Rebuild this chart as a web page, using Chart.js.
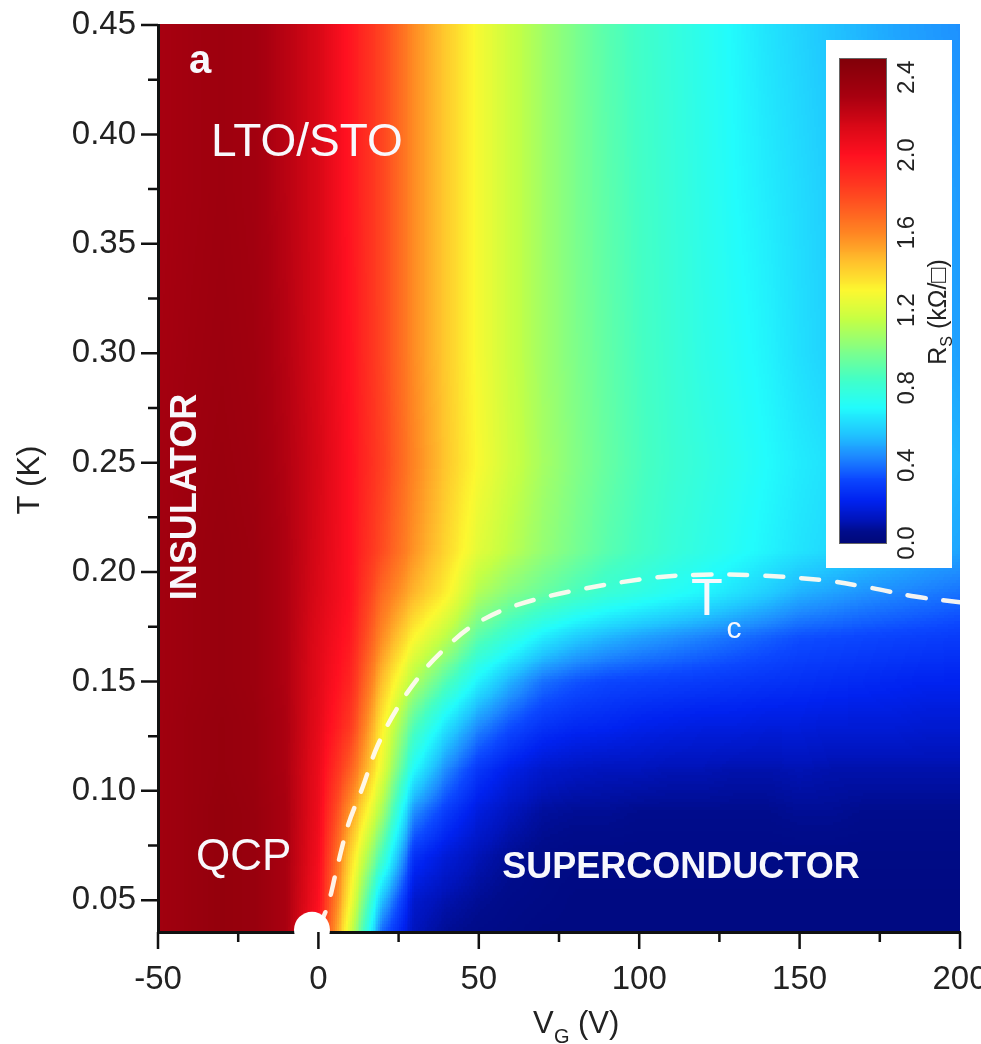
<!DOCTYPE html>
<html>
<head>
<meta charset="utf-8">
<script src="https://cdn.jsdelivr.net/npm/chart.js@4.4.0/dist/chart.umd.min.js"></script>
<style>
html, body { margin: 0; padding: 0; background: #fff; }
#wrap { width: 981px; height: 1044px; }
</style>
</head>
<body>
<div id="wrap"><canvas id="phaseChart" width="981" height="1044"></canvas></div>
<script>
// gate voltage columns (V) of the Rs map
let vg_cols = [-50, -40, -30, -20, -10, 0, 10, 20, 30, 40, 50, 60, 70, 80, 90, 100, 110, 120, 130, 140, 150, 160, 170, 180, 190, 200];
// temperature rows (K), bottom to top
let t_rows = [0.0355, 0.05, 0.07, 0.09, 0.11, 0.13, 0.15, 0.17, 0.19, 0.21, 0.25, 0.30, 0.375, 0.45];

// sheet resistance Rs (kOhm/sq), one array per temperature row
let rs_t0355 = [2.33, 2.37, 2.40, 2.38, 2.30, 1.98, 1.20, 0.38, 0.12, 0.07, 0.05, 0.04, 0.03, 0.03, 0.03, 0.03, 0.03, 0.03, 0.03, 0.03, 0.03, 0.03, 0.03, 0.03, 0.03, 0.03];
let rs_t050 = [2.33, 2.37, 2.40, 2.38, 2.30, 2.02, 1.30, 0.55, 0.15, 0.10, 0.07, 0.05, 0.04, 0.03, 0.03, 0.03, 0.03, 0.03, 0.03, 0.03, 0.03, 0.03, 0.03, 0.03, 0.03, 0.03];
let rs_t070 = [2.33, 2.37, 2.40, 2.38, 2.30, 2.05, 1.40, 0.85, 0.26, 0.17, 0.11, 0.07, 0.05, 0.04, 0.04, 0.04, 0.04, 0.04, 0.04, 0.04, 0.04, 0.04, 0.04, 0.04, 0.04, 0.04];
let rs_t090 = [2.33, 2.37, 2.40, 2.38, 2.30, 2.07, 1.55, 1.08, 0.45, 0.29, 0.18, 0.12, 0.08, 0.07, 0.07, 0.06, 0.06, 0.06, 0.06, 0.06, 0.07, 0.07, 0.06, 0.06, 0.06, 0.06];
let rs_t110 = [2.33, 2.37, 2.39, 2.37, 2.29, 2.08, 1.72, 1.25, 0.70, 0.45, 0.28, 0.20, 0.15, 0.13, 0.12, 0.12, 0.11, 0.11, 0.10, 0.10, 0.11, 0.10, 0.10, 0.10, 0.10, 0.10];
let rs_t130 = [2.33, 2.37, 2.39, 2.37, 2.29, 2.10, 1.85, 1.33, 0.88, 0.64, 0.45, 0.34, 0.27, 0.24, 0.23, 0.21, 0.20, 0.19, 0.19, 0.18, 0.18, 0.17, 0.17, 0.17, 0.16, 0.16];
let rs_t150 = [2.33, 2.36, 2.38, 2.36, 2.28, 2.11, 1.92, 1.45, 1.10, 0.88, 0.67, 0.52, 0.40, 0.35, 0.32, 0.31, 0.30, 0.29, 0.28, 0.27, 0.26, 0.25, 0.24, 0.23, 0.22, 0.22];
let rs_t170 = [2.33, 2.36, 2.38, 2.36, 2.28, 2.12, 1.97, 1.58, 1.30, 1.13, 0.90, 0.78, 0.66, 0.58, 0.53, 0.49, 0.46, 0.43, 0.40, 0.37, 0.34, 0.33, 0.32, 0.31, 0.30, 0.29];
let rs_t190 = [2.33, 2.36, 2.38, 2.36, 2.28, 2.14, 2.00, 1.68, 1.47, 1.32, 1.10, 1.00, 0.93, 0.86, 0.80, 0.76, 0.72, 0.68, 0.63, 0.58, 0.52, 0.49, 0.46, 0.44, 0.42, 0.40];
let rs_t210 = [2.33, 2.36, 2.38, 2.36, 2.28, 2.15, 2.00, 1.78, 1.56, 1.39, 1.23, 1.13, 1.04, 0.97, 0.90, 0.85, 0.80, 0.76, 0.72, 0.68, 0.64, 0.61, 0.58, 0.55, 0.52, 0.50];
let rs_t250 = [2.32, 2.35, 2.37, 2.35, 2.27, 2.16, 2.00, 1.82, 1.60, 1.43, 1.29, 1.18, 1.08, 1.00, 0.93, 0.87, 0.82, 0.78, 0.74, 0.70, 0.66, 0.63, 0.60, 0.57, 0.55, 0.53];
let rs_t300 = [2.31, 2.34, 2.36, 2.34, 2.26, 2.15, 1.99, 1.80, 1.58, 1.42, 1.28, 1.17, 1.07, 0.99, 0.92, 0.86, 0.81, 0.76, 0.72, 0.68, 0.63, 0.59, 0.56, 0.53, 0.51, 0.49];
let rs_t375 = [2.30, 2.33, 2.35, 2.33, 2.25, 2.15, 1.98, 1.80, 1.58, 1.42, 1.28, 1.17, 1.07, 0.98, 0.91, 0.85, 0.80, 0.75, 0.70, 0.66, 0.62, 0.58, 0.55, 0.52, 0.50, 0.48];
let rs_t450 = [2.30, 2.33, 2.35, 2.33, 2.25, 2.15, 1.98, 1.80, 1.58, 1.42, 1.28, 1.17, 1.07, 0.98, 0.90, 0.84, 0.79, 0.74, 0.69, 0.64, 0.60, 0.56, 0.53, 0.50, 0.48, 0.46];

// Tc line (dashed) and the quantum critical point
let tc_vg = [0, 3, 5.5, 9.4, 13.7, 18.4, 25, 32.8, 40, 48, 60, 79, 105, 120, 136, 157, 172.5, 186, 200];
let tc_t = [0.037, 0.048, 0.063, 0.085, 0.1013, 0.1205, 0.1388, 0.1548, 0.1658, 0.1754, 0.184, 0.1913, 0.1975, 0.1988, 0.1985, 0.1963, 0.1927, 0.1888, 0.1862];
let qcp_vg = [-2];
let qcp_t = [0.0365];

// axis ticks
let x_tick_values = [-50, 0, 50, 100, 150, 200];
let x_minor_values = [-25, 25, 75, 125, 175];
let y_tick_values = [0.05, 0.10, 0.15, 0.20, 0.25, 0.30, 0.35, 0.40, 0.45];
let y_minor_values = [0.075, 0.125, 0.175, 0.225, 0.275, 0.325, 0.375, 0.425];
let cb_tick_values = [0.0, 0.4, 0.8, 1.2, 1.6, 2.0, 2.4];

let rs_grid = [rs_t0355, rs_t050, rs_t070, rs_t090, rs_t110, rs_t130, rs_t150, rs_t170, rs_t190, rs_t210, rs_t250, rs_t300, rs_t375, rs_t450];

// jet-like colour map of the figure
const cmap_stops = [
    [0.00, [0, 8, 120]], [0.06, [0, 12, 140]], [0.12, [0, 20, 188]], [0.22, [0, 34, 240]],
    [0.33, [12, 72, 255]], [0.45, [30, 140, 255]], [0.56, [32, 196, 255]], [0.70, [34, 252, 252]],
    [0.85, [68, 255, 196]], [1.00, [132, 255, 132]], [1.15, [196, 255, 68]], [1.30, [252, 248, 48]],
    [1.45, [255, 192, 44]], [1.60, [255, 132, 34]], [1.80, [255, 68, 32]], [2.00, [255, 16, 32]],
    [2.15, [216, 8, 22]], [2.30, [168, 0, 16]], [2.50, [128, 0, 8]]
];
let cmap_cache = {};
function rsColor(v) {
    let key = Math.round(v * 200);
    if (cmap_cache[key]) return cmap_cache[key];
    let q = key / 200, c = cmap_stops[cmap_stops.length - 1][1];
    if (q <= cmap_stops[0][0]) c = cmap_stops[0][1];
    for (let i = 0; i < cmap_stops.length - 1; i++) {
        let a = cmap_stops[i], b = cmap_stops[i + 1];
        if (q >= a[0] && q <= b[0]) {
            let f = (q - a[0]) / (b[0] - a[0]);
            c = [0, 1, 2].map(k => Math.round(a[1][k] + (b[1][k] - a[1][k]) * f));
            break;
        }
    }
    cmap_cache[key] = 'rgb(' + c[0] + ',' + c[1] + ',' + c[2] + ')';
    return cmap_cache[key];
}

let tc_points = [];
for (x in tc_vg) {
    tc_points.push({x: tc_vg[x], y: tc_t[x]});
}
let qcp_points = [{x: qcp_vg[0], y: qcp_t[0]}];

const FONT = '"Liberation Sans", Arial, Helvetica, sans-serif';

// the Rs map, drawn cell by cell under the axes
const heatmapPlugin = {
    id: 'heatmap',
    beforeDraw(chart) {
        let ctx = chart.ctx;
        let xs = chart.scales.x;
        let ys = chart.scales.y;
        ctx.save();
        ctx.fillStyle = '#ffffff';
        ctx.fillRect(0, 0, chart.width, chart.height);
        for (let j = 0; j < t_rows.length - 1; j++) {
            let y0 = ys.getPixelForValue(t_rows[j]);
            let y1 = ys.getPixelForValue(t_rows[j + 1]);
            let ny = Math.max(1, Math.ceil((y0 - y1) / 3));
            for (let i = 0; i < vg_cols.length - 1; i++) {
                let x0 = xs.getPixelForValue(vg_cols[i]);
                let x1 = xs.getPixelForValue(vg_cols[i + 1]);
                let nx = Math.max(1, Math.ceil((x1 - x0) / 2));
                let a = rs_grid[j][i], b = rs_grid[j][i + 1];
                let c = rs_grid[j + 1][i], d = rs_grid[j + 1][i + 1];
                for (let q = 0; q < ny; q++) {
                    let fy = (q + 0.5) / ny;
                    let yb = y0 + (y1 - y0) * q / ny;
                    let yt = y0 + (y1 - y0) * (q + 1) / ny;
                    for (let p = 0; p < nx; p++) {
                        let fx = (p + 0.5) / nx;
                        let v = a * (1 - fx) * (1 - fy) + b * fx * (1 - fy) + c * (1 - fx) * fy + d * fx * fy;
                        let xl = x0 + (x1 - x0) * p / nx;
                        let xr = x0 + (x1 - x0) * (p + 1) / nx;
                        ctx.fillStyle = rsColor(v);
                        ctx.fillRect(Math.floor(xl), Math.floor(yt), Math.ceil(xr) - Math.floor(xl), Math.ceil(yb) - Math.floor(yt));
                    }
                }
            }
        }
        ctx.restore();
    }
};

function rotText(ctx, txt, x, y, font, color) {
    ctx.save();
    ctx.translate(x, y);
    ctx.rotate(-Math.PI / 2);
    ctx.font = font;
    ctx.fillStyle = color;
    ctx.textAlign = 'center';
    ctx.textBaseline = 'middle';
    ctx.fillText(txt, 0, 0);
    ctx.restore();
}

// ticks, labels on the map, colour bar
const overlayPlugin = {
    id: 'overlay',
    afterDraw(chart) {
        let ctx = chart.ctx;
        let xs = chart.scales.x;
        let ys = chart.scales.y;
        let area = chart.chartArea;
        ctx.save();

        // tick marks
        ctx.strokeStyle = '#111';
        ctx.lineWidth = 2.5;
        ctx.beginPath();
        x_tick_values.forEach(v => { let px = xs.getPixelForValue(v); ctx.moveTo(px, area.bottom); ctx.lineTo(px, area.bottom + 17); });
        x_minor_values.forEach(v => { let px = xs.getPixelForValue(v); ctx.moveTo(px, area.bottom); ctx.lineTo(px, area.bottom + 10); });
        y_tick_values.forEach(v => { let py = ys.getPixelForValue(v); ctx.moveTo(area.left, py); ctx.lineTo(area.left - 17, py); });
        y_minor_values.forEach(v => { let py = ys.getPixelForValue(v); ctx.moveTo(area.left, py); ctx.lineTo(area.left - 10, py); });
        ctx.stroke();

        // axis titles
        rotText(ctx, 'T (K)', 30, 480, '31px ' + FONT, '#222');
        ctx.fillStyle = '#222';
        ctx.textBaseline = 'alphabetic';
        ctx.textAlign = 'left';
        ctx.font = '31px ' + FONT;
        ctx.fillText('V', 533, 1033);
        ctx.font = '20px ' + FONT;
        ctx.fillText('G', 554, 1043);
        ctx.font = '31px ' + FONT;
        ctx.fillText('(V)', 578, 1033);

        // labels on the map
        ctx.fillStyle = '#f8f8fc';
        ctx.font = 'bold 40px ' + FONT;
        ctx.textAlign = 'center';
        ctx.textBaseline = 'middle';
        ctx.fillText('a', 200, 62);
        ctx.font = '46px ' + FONT;
        ctx.textAlign = 'left';
        ctx.fillText('LTO/STO', 211, 143);
        ctx.font = '44px ' + FONT;
        ctx.fillText('QCP', 196, 858);
        ctx.font = 'bold 36px ' + FONT;
        ctx.textAlign = 'center';
        ctx.fillText('SUPERCONDUCTOR', 681, 868);
        rotText(ctx, 'INSULATOR', 186, 497, 'bold 36px ' + FONT, '#f8f8fc');
        ctx.fillStyle = '#f8f8fc';
        ctx.font = '52px ' + FONT;
        ctx.textAlign = 'center';
        ctx.fillText('T', 707, 601);
        ctx.font = '30px ' + FONT;
        ctx.fillText('c', 734, 630);

        // colour bar
        ctx.fillStyle = '#ffffff';
        ctx.fillRect(826, 40, 126, 528);
        let cbBottom = 543, cbTop = 58, cbScale = (cbBottom - cbTop) / 2.5;
        for (let py = cbTop; py < cbBottom; py++) {
            ctx.fillStyle = rsColor((cbBottom - py - 0.5) / cbScale);
            ctx.fillRect(839, py, 47, 1);
        }
        ctx.strokeStyle = '#666';
        ctx.lineWidth = 1;
        ctx.strokeRect(839.5, cbTop + 0.5, 47, cbBottom - cbTop);
        cb_tick_values.forEach(v => {
            rotText(ctx, v.toFixed(1), 907, cbBottom - v * cbScale, '24px ' + FONT, '#222');
        });
        // colour bar title, R_S (kΩ/□)
        ctx.save();
        ctx.translate(939, 312);
        ctx.rotate(-Math.PI / 2);
        ctx.fillStyle = '#222';
        ctx.textBaseline = 'middle';
        ctx.textAlign = 'left';
        ctx.font = '25px ' + FONT;
        let w1 = ctx.measureText('R').width;
        ctx.font = '16px ' + FONT;
        let w2 = ctx.measureText('S').width;
        ctx.font = '25px ' + FONT;
        let w3 = ctx.measureText(' (k\u03A9/\u25A1)').width;
        let sx = -(w1 + w2 + w3) / 2;
        ctx.fillText('R', sx, 0);
        ctx.font = '16px ' + FONT;
        ctx.fillText('S', sx + w1, 9);
        ctx.font = '25px ' + FONT;
        ctx.fillText(' (k\u03A9/\u25A1)', sx + w1 + w2, 0);
        ctx.restore();

        ctx.restore();
    }
};

let ctx1 = document.getElementById('phaseChart');
let phaseChart = new Chart(ctx1, {
    type: 'scatter',
    data: {
        datasets: [{
            label: 'QCP',
            data: qcp_points,
            pointRadius: 18,
            pointHoverRadius: 18,
            backgroundColor: '#ffffff',
            borderWidth: 0,
            clip: false,
            order: 0
        }, {
            label: 'Tc',
            data: tc_points,
            showLine: true,
            pointRadius: 0,
            borderColor: 'rgba(255, 250, 240, 0.95)',
            borderWidth: 4.5,
            borderDash: [18, 18],
            borderCapStyle: 'round',
            tension: 0.35,
            order: 1
        }]
    },
    options: {
        responsive: false,
        maintainAspectRatio: false,
        animation: false,
        events: [],
        layout: { padding: { left: 0, top: 25, right: 21, bottom: 0 } },
        plugins: {
            legend: { display: false },
            tooltip: { enabled: false }
        },
        scales: {
            x: {
                type: 'linear',
                min: -50,
                max: 200,
                afterBuildTicks: (s) => { s.ticks = x_tick_values.map(v => ({value: v})); },
                afterFit: (s) => { s.height = 112; s.paddingLeft = 0; s.paddingRight = 0; },
                grid: { display: false, drawTicks: false },
                border: { display: true, color: '#111', width: 3 },
                ticks: {
                    autoSkip: false,
                    maxRotation: 0,
                    padding: 28,
                    color: '#222',
                    font: { family: FONT, size: 33 },
                    callback: (v) => String(v)
                }
            },
            y: {
                type: 'linear',
                min: 0.0355,
                max: 0.45,
                afterBuildTicks: (s) => { s.ticks = y_tick_values.map(v => ({value: v})); },
                afterFit: (s) => { s.width = 158; s.paddingTop = 0; s.paddingBottom = 0; },
                grid: { display: false, drawTicks: false },
                border: { display: true, color: '#111', width: 3 },
                ticks: {
                    autoSkip: false,
                    padding: 22,
                    color: '#222',
                    font: { family: FONT, size: 33 },
                    callback: (v) => v.toFixed(2)
                }
            }
        }
    },
    plugins: [heatmapPlugin, overlayPlugin]
});
</script>
</body>
</html>
